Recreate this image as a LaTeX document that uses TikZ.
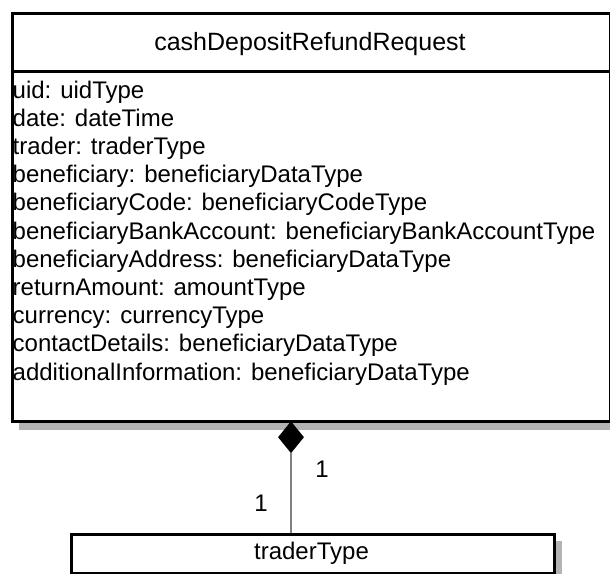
\documentclass[tikz,border=0pt]{standalone}
\usepackage{fontspec}
\setmainfont{Liberation Sans}
\usetikzlibrary{shapes.geometric}
\definecolor{shadowgray}{HTML}{B3B3B3}
\definecolor{linkgray}{HTML}{808080}
\begin{document}
\begin{tikzpicture}[x=1pt,y=-1pt,
  boxline/.style={draw=black,line width=3pt,fill=white},
  attr/.style={anchor=base west,inner sep=0pt,font=\fontsize{24}{28}\selectfont},
  ctext/.style={inner sep=0pt,font=\fontsize{24}{28}\selectfont},
  linkline/.style={draw=linkgray,line width=2pt}]
\useasboundingbox (0,0) rectangle (610,573);
% main class
\fill[shadowgray] (19,20) rectangle (625,430);
\node[boxline,minimum width=598pt,minimum height=408pt,anchor=north west,inner sep=0pt] (cls) at (11,12) {};
\coordinate (divl) at (11,71.5);
\coordinate (divr) at (609,71.5);
\draw[line width=3pt] (divl) -- (divr);
\node[ctext,anchor=base,font=\fontsize{25}{29}\selectfont] (title) at (310,50) {cashDepositRefundRequest};
\node[attr] (a1) at (12.5,98.0) {uid: uidType};
\node[attr] (a2) at (12.5,126.2) {date: dateTime};
\node[attr] (a3) at (12.5,154.4) {trader: traderType};
\node[attr] (a4) at (12.5,182.6) {beneficiary: beneficiaryDataType};
\node[attr] (a5) at (12.5,210.8) {beneficiaryCode: beneficiaryCodeType};
\node[attr] (a6) at (12.5,239.0) {beneficiaryBankAccount: beneficiaryBankAccountType};
\node[attr] (a7) at (12.5,267.2) {beneficiaryAddress: beneficiaryDataType};
\node[attr] (a8) at (12.5,295.4) {returnAmount: amountType};
\node[attr] (a9) at (12.5,323.6) {currency: currencyType};
\node[attr] (a10) at (12.5,351.8) {contactDetails: beneficiaryDataType};
\node[attr] (a11) at (12.5,380.0) {additionalInformation: beneficiaryDataType};
% trader class
\fill[shadowgray] (79,541) rectangle (562,600);
\node[boxline,minimum width=483pt,minimum height=39pt,anchor=north west,inner sep=0pt] (trader) at (70,533) {};
\node[ctext,anchor=base] (tname) at (311.5,559) {traderType};
% composition
\node[diamond,fill=black,draw=none,inner sep=0pt,minimum width=26pt,minimum height=32pt,anchor=north] (dia) at (291,421) {};
\draw[linkline] (dia.south) -- (dia.south |- trader.north);
\node[ctext] (m1) at (322,469) {1};
\node[ctext] (m2) at (261,503) {1};
\end{tikzpicture}
\end{document}
